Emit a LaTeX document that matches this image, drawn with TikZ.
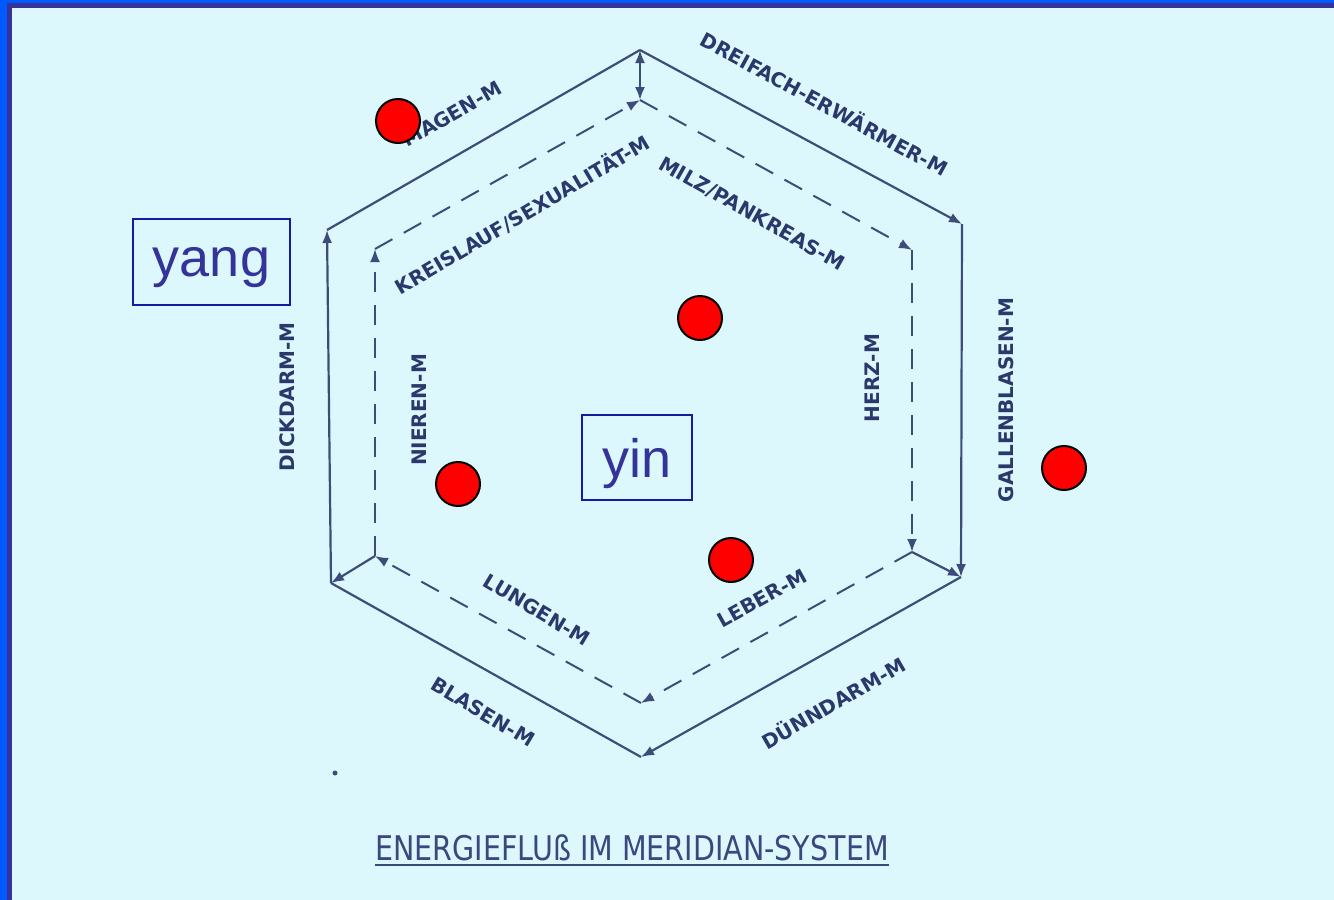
\documentclass[tikz,border=0pt]{standalone}
\usepackage{fontspec}
\usetikzlibrary{arrows.meta}
\newfontfamily\lblfont{DejaVu Sans}
\newfontfamily\yfont{Liberation Sans}
\definecolor{bg}{RGB}{220,248,252}
\definecolor{bblue}{RGB}{0,88,255}
\definecolor{dblue}{RGB}{51,51,153}
\definecolor{linec}{RGB}{62,76,122}
\definecolor{lblc}{RGB}{42,56,108}
\definecolor{titlec}{RGB}{58,72,125}
\definecolor{boxc}{RGB}{25,25,160}
\definecolor{yc}{RGB}{51,51,153}
\begin{document}
\begin{tikzpicture}[x=1pt,y=-1pt,
  outer/.style={draw=linec, line width=2.2pt},
  inner/.style={draw=linec, line width=2pt, dash pattern=on 20pt off 13pt},
  tip/.style={-{Latex[length=13pt,width=10pt]}},
  tips/.style={{Latex[length=13pt,width=10pt]}-{Latex[length=13pt,width=10pt]}},
  lbl/.style={text=lblc, font=\lblfont\bfseries\fontsize{20}{20}\selectfont, inner sep=0pt},
  dot/.style={circle, fill=red, draw=black, line width=2pt, minimum size=44pt, inner sep=0pt},
  ybox/.style={draw=boxc, line width=2pt, text=yc, font=\yfont\fontsize{54}{54}\selectfont, inner sep=0pt, text depth=0pt}
]
\useasboundingbox (0,0) rectangle (1334,900);
\fill[bg] (0,0) rectangle (1334,900);
\fill[bblue] (0,0) rectangle (7,900);
\fill[bblue] (0,0) rectangle (1334,3);
\fill[dblue] (7,3) rectangle (12,900);
\fill[dblue] (7,3) rectangle (1334,8);

% outer hexagon
\coordinate (OT) at (640,50);
\coordinate (OUR) at (962,224);
\coordinate (OLR) at (961,577);
\coordinate (OB) at (641,757);
\coordinate (OLL) at (331,583);
\coordinate (OUL) at (327,230);
% inner hexagon
\coordinate (IT) at (640,100);
\coordinate (IUR) at (912,250);
\coordinate (ILR) at (912,552);
\coordinate (IB) at (641,703);
\coordinate (ILL) at (375,556);
\coordinate (IUL) at (375,249);

\draw[outer,tip] (OLL) -- (OUL);
\draw[outer] (OUL) -- (OT);
\draw[outer,tips] (IT) -- (OT);
\draw[outer,tip] (OT) -- (OUR);
\draw[outer,tip] (OUR) -- (OLR);
\draw[outer,tip] (OLR) -- (OB);
\draw[outer] (OB) -- (OLL);
\draw[outer,tip] (ILR) -- (OLR);
\draw[outer,tip] (ILL) -- (OLL);

\draw[inner,tip] (ILL) -- (IUL);
\draw[inner,tip] (IUL) -- (IT);
\draw[inner,tip] (IT) -- (IUR);
\draw[inner,tip] (IUR) -- (ILR);
\draw[inner,tip] (ILR) -- (IB);
\draw[inner,tip] (IB) -- (ILL);

% labels
\node[lbl, rotate=30] (magen) at (452,114) {MAGEN-M};
\node[lbl, rotate=-28.5] (dreifach) at (825,103) {DREIFACH-ERWÄRMER-M};
\node[lbl, rotate=30.5] (kreislauf) at (522,214) {KREISLAUF/SEXUALITÄT-M};
\node[lbl, rotate=-29.5] (milz) at (752,214) {MILZ/PANKREAS-M};
\node[lbl, rotate=90] (herz) at (872,378) {HERZ-M};
\node[lbl, rotate=90] (galle) at (1006,400) {GALLENBLASEN-M};
\node[lbl, rotate=90] (dickdarm) at (287,397) {DICKDARM-M};
\node[lbl, rotate=90] (nieren) at (419,410) {NIEREN-M};
\node[lbl, rotate=-31] (lungen) at (537,610) {LUNGEN-M};
\node[lbl, rotate=-31] (blasen) at (483,712) {BLASEN-M};
\node[lbl, rotate=29] (leber) at (762,598) {LEBER-M};
\node[lbl, rotate=30] (duenndarm) at (833,702) {DÜNNDARM-M};

% title
\node[text=titlec, inner sep=0pt, font=\lblfont\fontsize{34}{34}\selectfont] (title) at (632,848) {\scalebox{0.84}[1]{ENERGIEFLUß IM MERIDIAN-SYSTEM}};
\draw[titlec, line width=2pt] ([yshift=-4pt]title.south west) -- ([yshift=-4pt]title.south east);

% speck
\fill[linec] (335,773) circle (2.5);

% yin / yang boxes
\node[ybox, minimum width=157pt, minimum height=86pt] (yang) at (211.5,262) {yang};
\node[ybox, minimum width=110pt, minimum height=85pt] (yin) at (637,457.5) {yin};

% red dots
\node[dot] (d1) at (398,121) {};
\node[dot] (d2) at (700,318) {};
\node[dot] (d3) at (458,484) {};
\node[dot] (d4) at (731,560) {};
\node[dot] (d5) at (1064,468) {};
\end{tikzpicture}
\end{document}
